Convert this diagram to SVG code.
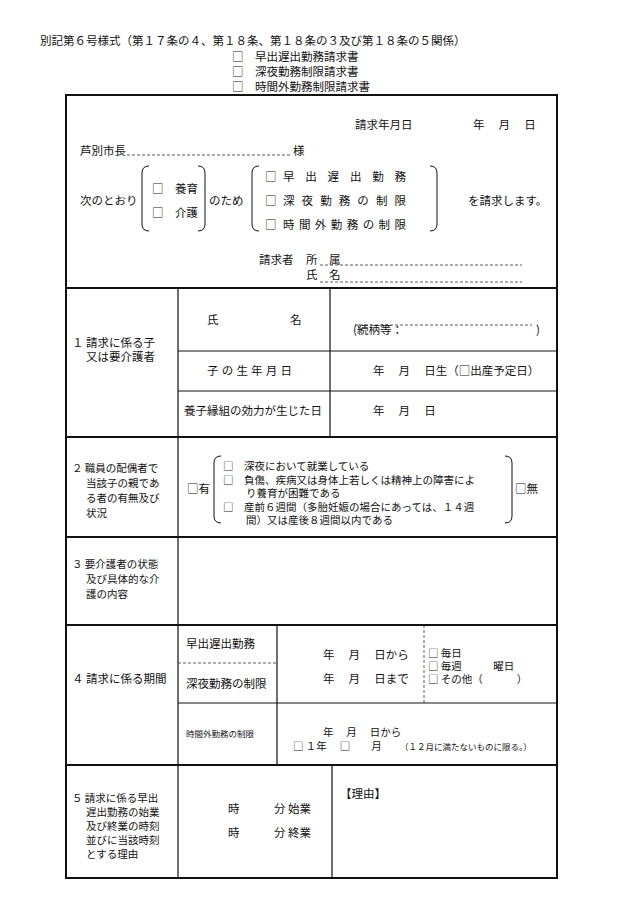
<svg xmlns="http://www.w3.org/2000/svg" width="630" height="915" viewBox="0 0 630 915">
<style>
text{font-family:"Noto Sans CJK JP","Liberation Serif",serif;font-size:11.5px;fill:#111}
.s{font-size:8.5px}
.t{font-size:10.5px}
.l{stroke:#111;stroke-width:1.2;fill:none}
.o{stroke:#111;stroke-width:2;fill:none}
.d{stroke:#333;stroke-width:0.8;stroke-dasharray:3,2;fill:none}
.b{stroke:#111;stroke-width:1;fill:none}
</style>
<rect width="630" height="915" fill="#fff"/>
<g id="header">
<text x="40" y="45">別記第６号様式（第１７条の４、第１８条、第１８条の３及び第１８条の５関係）</text>
<text x="232" y="61">□　早出遅出勤務請求書</text>
<text x="232" y="76">□　深夜勤務制限請求書</text>
<text x="232" y="91">□　時間外勤務制限請求書</text>
</g>
<g id="connectors">
<rect class="o" x="66" y="95" width="491" height="783"/>
<path class="o" d="M66 288H557M66 437H557M66 537H557M66 625H557M66 765H557"/>
<path class="l" d="M178 288V765M178 765V878M330 288V437M178 351H557M178 391H557M277 625V765M178 703H557M332 765V878"/>
<path class="d" d="M178 663H277M424 625V703M127 155H292M320 265H522M320 282H522M355 325H532"/>
<path class="b" d="M149 166q-7 0-7 7v51q0 7 7 7M198 166q7 0 7 7v51q0 7-7 7M259 166q-7 0-7 7v51q0 7 7 7M430 166q7 0 7 7v51q0 7-7 7M221 456q-7 0-7 7v53q0 7 7 7M505 456q7 0 7 7v53q0 7-7 7"/>
</g>
<g id="top">
<text x="355" y="129">請求年月日</text>
<text x="473" y="129">年　 月　 日</text>
<text x="80" y="155">芦別市長</text>
<text x="293" y="155">様</text>
<text x="80" y="205">次のとおり</text>
<text x="152" y="193">□</text><text x="175" y="193">養育</text>
<text x="152" y="217">□</text><text x="175" y="217">介護</text>
<text x="209" y="205">のため</text>
<text x="265" y="181">□</text><text x="283" y="181" textLength="123" lengthAdjust="spacing">早出遅出勤務</text>
<text x="265" y="205">□</text><text x="283" y="205" textLength="123" lengthAdjust="spacing">深夜勤務の制限</text>
<text x="265" y="229">□</text><text x="283" y="229" textLength="123" lengthAdjust="spacing">時間外勤務の制限</text>
<text x="468" y="205">を請求します。</text>
<text x="259" y="264">請求者</text>
<text x="306" y="264">所　属</text>
<text x="306" y="279">氏　名</text>
</g>
<g id="row1">
<text x="72" y="347">１ 請求に係る子</text>
<text x="86" y="361">又は要介護者</text>
<text x="207" y="324">氏</text>
<text x="290" y="324">名</text>
<text x="353" y="334">(続柄等：</text>
<text x="536" y="334">)</text>
<text x="207" y="375" textLength="85" lengthAdjust="spacing">子の生年月日</text>
<text x="373" y="375">年　 月　 日生（□出産予定日）</text>
<text x="184" y="415">養子縁組の効力が生じた日</text>
<text x="373" y="415">年　 月　 日</text>
</g>
<g id="row2">
<text class="t" x="72" y="472">２ 職員の配偶者で</text>
<text class="t" x="86" y="487">当該子の親であ</text>
<text class="t" x="86" y="502">る者の有無及び</text>
<text class="t" x="86" y="517">状況</text>
<text x="187" y="493">□有</text>
<text class="t" x="223" y="470">□　深夜において就業している</text>
<text class="t" x="223" y="483.5">□　負傷、疾病又は身体上若しくは精神上の障害によ</text>
<text class="t" x="246" y="497">り養育が困難である</text>
<text class="t" x="223" y="510.5">□　産前６週間（多胎妊娠の場合にあっては、１４週</text>
<text class="t" x="246" y="524">間）又は産後８週間以内である</text>
<text x="515" y="493">□無</text>
</g>
<g id="row3">
<text class="t" x="72" y="568">３ 要介護者の状態</text>
<text class="t" x="86" y="583">及び具体的な介</text>
<text class="t" x="86" y="598">護の内容</text>
</g>
<g id="row4">
<text x="72" y="683">４ 請求に係る期間</text>
<text x="186" y="648">早出遅出勤務</text>
<text x="186" y="688">深夜勤務の制限</text>
<text x="323" y="659">年　 月　 日から</text>
<text x="323" y="683">年　 月　 日まで</text>
<text class="t" x="428" y="657">□ 毎日</text>
<text class="t" x="428" y="670">□ 毎週　　　曜日</text>
<text class="t" x="428" y="683">□ その他（　　　 ）</text>
<text x="186" y="737" class="s">時間外勤務の制限</text>
<text class="t" x="323" y="736">年　 月　 日から</text>
<text class="t" x="293" y="750">□ １年　 □　　月</text>
<text x="400" y="750" class="s">（１２月に満たないものに限る。）</text>
</g>
<g id="row5">
<text class="t" x="72" y="802">５ 請求に係る早出</text>
<text class="t" x="86" y="816">遅出勤務の始業</text>
<text class="t" x="86" y="830">及び終業の時刻</text>
<text class="t" x="86" y="844">並びに当該時刻</text>
<text class="t" x="86" y="858">とする理由</text>
<text x="228" y="813">時　　　分 始業</text>
<text x="228" y="837">時　　　分 終業</text>
<text x="340" y="798">【理由】</text>
</g>
</svg>
